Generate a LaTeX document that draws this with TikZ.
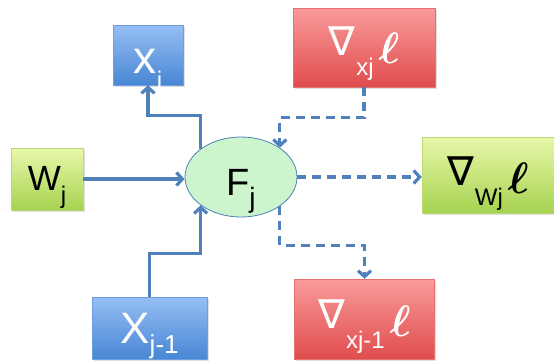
\RequirePackage{fix-cm}
\documentclass[tikz,border=0pt]{standalone}
\usepackage{fontspec}
\setmainfont{Liberation Sans}
\newfontfamily\symfont{DejaVu Sans}
\usepackage{amsmath,bm}
\usetikzlibrary{arrows.meta, positioning, calc, shapes.geometric, shadows}
\definecolor{blue1}{RGB}{79,129,189}
\definecolor{bluetop}{RGB}{150,190,245}
\definecolor{bluebot}{RGB}{72,134,212}
\definecolor{greentop}{RGB}{232,248,170}
\definecolor{greenbot}{RGB}{166,210,80}
\definecolor{redtop}{RGB}{250,155,155}
\definecolor{redbot}{RGB}{224,76,76}
\definecolor{ellfill}{RGB}{205,245,205}
\newcommand{\lowsub}[3]{\raisebox{-#1}{\fontsize{#2}{#2}\selectfont #3}}
\newcommand{\gradlabel}[1]{{\symfont\fontsize{40}{40}\selectfont ∇}\hspace{1pt}\lowsub{20pt}{24}{#1}\hspace{5pt}\raisebox{-8pt}{\fontsize{44}{44}\selectfont$\bm{\ell}$}}

\begin{document}
\begin{tikzpicture}[
    x=1pt, y=-1pt,
    every node/.style={inner sep=0pt, anchor=center},
    boxshadow/.style={drop shadow={opacity=0.25, shadow xshift=1.5pt, shadow yshift=-1.5pt}},
    bluebox/.style={rectangle, top color=bluetop, bottom color=bluebot, draw=bluebot!80!white, thin, text=white, boxshadow},
    greenbox/.style={rectangle, top color=greentop, bottom color=greenbot, draw=greenbot!80!white, thin, text=black, boxshadow},
    redbox/.style={rectangle, top color=redtop, bottom color=redbot, draw=redbot!80!white, thin, text=white, boxshadow},
    funcnode/.style={ellipse, fill=ellfill, draw=blue1, thick, minimum width=112pt, minimum height=80pt},
    flow/.style={draw=blue1, line width=3.2pt, -{Straight Barb[length=6pt,width=13pt]}},
    backflow/.style={flow, dash pattern=on 9pt off 6pt}
]
\useasboundingbox (0,0) rectangle (554,360);

% forward nodes
\node[funcnode, text height=44pt, text depth=8pt] (Fj) at (241,177)
  {\fontsize{38}{40}\selectfont F\lowsub{12pt}{28}{j}};
\node[bluebox, minimum width=70pt, minimum height=60pt, text height=44pt, text depth=8pt] (xj) at (148,55)
  {\fontsize{46}{46}\selectfont x\lowsub{15pt}{24}{j}};
\node[greenbox, minimum width=72pt, minimum height=62pt, text height=34pt, text depth=12pt] (Wj) at (47,179)
  {\fontsize{35}{36}\selectfont W\lowsub{13pt}{24}{j}};
\node[bluebox, minimum width=115pt, minimum height=62pt, text height=44pt, text depth=14pt] (xjm) at (149.5,328)
  {\fontsize{44}{44}\selectfont X\lowsub{10pt}{26}{j-1}};

% gradient nodes
\node[redbox, minimum width=142pt, minimum height=79pt, text height=40pt, text depth=25pt] (gxj) at (364,47.5) {\gradlabel{xj}};
\node[greenbox, minimum width=132pt, minimum height=76pt, text height=40pt, text depth=20pt] (gWj) at (488,175) {\gradlabel{Wj}};
\node[redbox, minimum width=140pt, minimum height=80pt, text height=40pt, text depth=22pt] (gxjm) at (364.5,319) {\gradlabel{xj-1}};

% forward pass
\draw[flow] (Fj.145) |- ($(xj.south)+(0,30)$) -- (xj.south);
\draw[flow] (Wj.east) -- (Wj.east -| Fj.west);
\draw[flow] (xjm.north) |- ($(Fj.215)+(0,48)$) -- (Fj.215);

% backward pass
\draw[backflow] (gxj.south) |- ($(Fj.37)+(0,-30)$) -- (Fj.37);
\draw[backflow] (Fj.east) -- (Fj.east -| gWj.west);
\draw[backflow] (Fj.323) -- ++(0,39) -| (gxjm.north);

\end{tikzpicture}
\end{document}
